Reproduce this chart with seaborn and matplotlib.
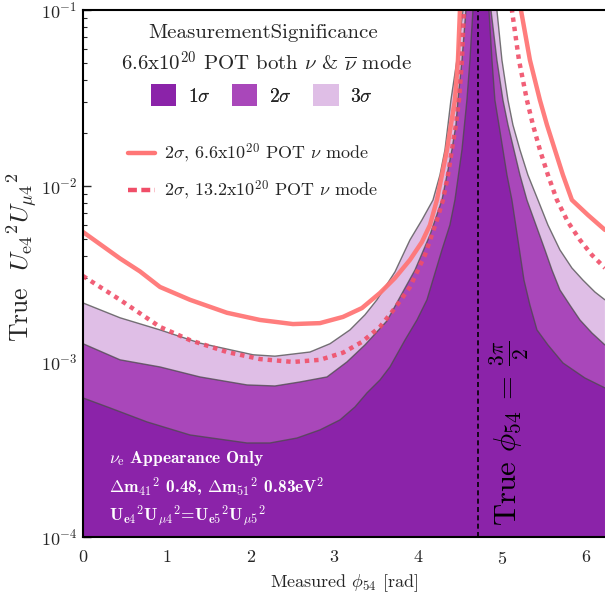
import matplotlib
matplotlib.use("Agg")
import matplotlib.pyplot as plt
import seaborn as sns
import numpy as np
from matplotlib.patches import Patch
from matplotlib.lines import Line2D

# contour boundaries (measured phi54 [rad], true Ue4^2 Umu4^2)
phi_1s = [0, 0.322, 0.764, 1.277, 1.957, 2.232, 2.554, 2.828, 3.067, 3.246, 3.389, 3.544, 3.663, 3.842,
          3.986, 4.105, 4.284, 4.379, 4.439, 4.523, 4.582, 4.618, 4.654,
          4.75,
          4.845, 4.881, 4.916, 4.964, 5.012, 5.060, 5.119, 5.191, 5.263, 5.334, 5.418, 5.549, 5.728, 5.990, 6.229]
u_1s = [6.19e-4, 5.43e-4, 4.52e-4, 3.81e-4, 3.43e-4, 3.43e-4, 3.66e-4, 4.07e-4, 4.64e-4, 5.50e-4, 6.61e-4, 7.83e-4, 9.29e-4, 1.32e-3,
        1.72e-3, 2.24e-3, 4.31e-3, 5.97e-3, 8.29e-3, 1.60e-2, 3.07e-2, 5.19e-2, 1.0e-1,
        1.0,
        1.0e-1, 5.19e-2, 3.07e-2, 2.22e-2, 1.60e-2, 1.15e-2, 8.29e-3, 4.91e-3, 2.90e-3, 2.09e-3, 1.51e-3, 1.24e-3, 9.79e-4, 8.04e-4, 7.06e-4]

phi_2s = [0, 0.442, 0.919, 1.396, 1.957, 2.291, 2.589, 2.912, 3.150, 3.365, 3.628, 3.783, 3.962, 4.141,
          4.284, 4.344, 4.403, 4.451, 4.475, 4.523, 4.570,
          4.72,
          4.869, 4.940, 5.012, 5.072, 5.143, 5.215, 5.298, 5.406, 5.513, 5.597, 5.692, 5.811, 5.931, 6.074, 6.229]
u_2s = [1.26e-3, 1.02e-3, 9.29e-4, 8.15e-4, 7.34e-4, 7.24e-4, 7.63e-4, 8.15e-4, 9.92e-4, 1.24e-3, 1.70e-3, 2.32e-3, 3.31e-3, 5.24e-3,
        8.29e-3, 1.15e-2, 1.60e-2, 2.22e-2, 3.07e-2, 5.19e-2, 1.0e-1,
        1.0,
        1.0e-1, 5.19e-2, 3.07e-2, 2.22e-2, 1.60e-2, 1.15e-2, 8.29e-3, 5.97e-3, 4.31e-3, 3.31e-3, 2.55e-3, 2.09e-3, 1.72e-3, 1.45e-3, 1.24e-3]

phi_3s = [0, 0.442, 0.919, 1.396, 2.029, 2.291, 2.709, 2.948, 3.186, 3.365, 3.508, 3.723, 3.902, 4.045,
          4.177, 4.260, 4.320, 4.356, 4.391, 4.463, 4.535,
          4.73,
          4.940, 5.000, 5.072, 5.131, 5.215, 5.310, 5.430, 5.549, 5.692, 5.835, 5.967, 6.110, 6.229]
u_3s = [2.15e-3, 1.77e-3, 1.51e-3, 1.27e-3, 1.09e-3, 1.07e-3, 1.13e-3, 1.26e-3, 1.51e-3, 1.84e-3, 2.24e-3, 3.23e-3, 4.91e-3, 6.38e-3,
        8.29e-3, 1.15e-2, 1.60e-2, 2.22e-2, 3.07e-2, 5.19e-2, 1.0e-1,
        1.0,
        1.0e-1, 5.19e-2, 3.07e-2, 2.22e-2, 1.60e-2, 1.15e-2, 8.29e-3, 5.97e-3, 4.31e-3, 3.40e-3, 2.90e-3, 2.48e-3, 2.24e-3]

# 2 sigma lines, nu mode only
phi_66 = [0, 0.442, 0.680, 0.919, 1.277, 1.718, 2.112, 2.506, 2.828, 3.103, 3.329, 3.544, 3.723, 3.902,
          4.045, 4.141, 4.224, 4.284, 4.344, 4.391, 4.439, 4.475, 4.499,
          4.87,
          5.227, 5.334, 5.453, 5.537, 5.632, 5.728, 5.835, 6.026, 6.229]
u_66 = [5.45e-3, 3.85e-3, 3.25e-3, 2.65e-3, 2.24e-3, 1.89e-3, 1.72e-3, 1.63e-3, 1.65e-3, 1.79e-3, 2.01e-3, 2.45e-3, 2.98e-3, 3.78e-3,
        4.78e-3, 5.97e-3, 8.29e-3, 1.15e-2, 1.60e-2, 2.22e-2, 3.07e-2, 5.19e-2, 1.0e-1,
        1.0,
        1.0e-1, 5.19e-2, 3.07e-2, 2.22e-2, 1.60e-2, 1.15e-2, 8.29e-3, 6.81e-3, 5.60e-3]

phi_132 = [0, 0.442, 0.919, 1.277, 1.718, 2.112, 2.506, 2.828, 3.103, 3.329, 3.544, 3.723, 3.902, 4.081,
           4.224, 4.296, 4.356, 4.403, 4.451, 4.487, 4.523, 4.547,
           4.83,
           5.119, 5.203, 5.298, 5.370, 5.453, 5.549, 5.656, 5.788, 5.931, 6.074, 6.229]
u_132 = [3.06e-3, 2.24e-3, 1.57e-3, 1.32e-3, 1.13e-3, 1.03e-3, 9.92e-4, 1.02e-3, 1.12e-3, 1.29e-3, 1.57e-3, 2.01e-3, 2.65e-3, 4.03e-3,
         6.38e-3, 8.29e-3, 1.15e-2, 1.60e-2, 2.22e-2, 3.07e-2, 5.19e-2, 1.0e-1,
         1.0,
         1.0e-1, 5.19e-2, 3.07e-2, 2.22e-2, 1.60e-2, 1.15e-2, 8.29e-3, 6.21e-3, 4.91e-3, 4.03e-3, 3.40e-3]

sigma_labels = [r'$1\sigma$', r'$2\sigma$', r'$3\sigma$']
line_labels = [r'$2\sigma$, 6.6x10$^{20}$ POT $\nu$ mode',
               r'$2\sigma$, 13.2x10$^{20}$ POT $\nu$ mode']
x_ticks = [0, 1, 2, 3, 4, 5, 6]

c1, c2, c3 = '#8B23A9', '#A947BA', '#DFBEE6'
red = '#FF7676'
red_dot = '#F04E68'

sns.set_theme(style='ticks')
plt.rcParams['font.family'] = ['cmr10', 'DejaVu Serif']
plt.rcParams['mathtext.fontset'] = 'cm'
plt.rcParams['axes.formatter.use_mathtext'] = True
plt.rcParams['axes.unicode_minus'] = False

fig = plt.figure(figsize=(6.05, 6.04), dpi=100)
ax = fig.add_axes([83 / 605, 1 - 537 / 604, 1 - 83 / 605, (537 - 10) / 604])
ax.set_yscale('log')

for phi, u, c in [(phi_3s, u_3s, c3), (phi_2s, u_2s, c2), (phi_1s, u_1s, c1)]:
    ax.fill_between(phi, 1e-5, u, color=c, lw=0)
    ax.plot(phi, u, color='#4a4a4a', lw=1.0, alpha=0.75)

sns.lineplot(x=phi_66, y=u_66, ax=ax, sort=False, estimator=None, color=red, lw=3.2, alpha=0.95)
sns.lineplot(x=phi_132, y=u_132, ax=ax, sort=False, estimator=None, color=red_dot, lw=3.2,
             alpha=0.9, linestyle=(0, (1, 1.1)))

ax.axvline(3 * np.pi / 2, color='black', lw=1.2, ls=(0, (3, 2)))

ax.set_xlim(0, 6.23)
ax.set_ylim(1e-4, 1e-1)
ax.set_xticks(x_ticks)
ax.set_xticks(np.arange(0, 6.3, 0.2), minor=True)
ax.tick_params(which='both', direction='in', top=False, right=False, labelsize=13)
ax.tick_params(axis='x', which='major', pad=9)
ax.tick_params(axis='y', which='major', pad=4)
ax.tick_params(which='major', length=6, width=1)
ax.tick_params(which='minor', length=3, width=0.8)
ax.spines['right'].set_visible(False)
for s in ['left', 'bottom', 'top']:
    ax.spines[s].set_linewidth(1.5)
    ax.spines[s].set_color('black')

fig.text(344 / 605, 1 - 583 / 604, r'Measured $\phi_{54}$ [rad]', fontsize=13, ha='center', va='center')
fig.text(22 / 605, 1 - 257 / 604, r'True  $U_{\mathrm{e}4}{}^2U_{\mu 4}{}^2$', fontsize=18.5,
         rotation=90, ha='center', va='center')

# significance legend
fig.text(263 / 605, 1 - 33 / 604, 'MeasurementSignificance', ha='center', va='center', fontsize=15)
fig.text(266 / 605, 1 - 62 / 604, r'6.6x10$^{20}$ POT both $\nu$ & $\overline{\nu}$ mode',
         ha='center', va='center', fontsize=15)
patches = [Patch(facecolor=c, edgecolor='none') for c in (c1, c2, c3)]
leg1 = fig.legend(patches, sigma_labels, loc='center', bbox_to_anchor=(262 / 605, 1 - 95 / 604),
                  ncol=3, frameon=False, fontsize=14, handlelength=1.3, handleheight=1.3,
                  columnspacing=1.1, handletextpad=0.6, borderpad=0)

lines = [Line2D([], [], color=red, lw=3.2),
         Line2D([], [], color=red_dot, lw=3.2, ls=(0, (2, 1)))]
fig.legend(lines, line_labels, loc='upper left', bbox_to_anchor=(128 / 605, 1 - 142 / 604),
           frameon=False, fontsize=13, handlelength=1.5, handletextpad=0.5, labelspacing=0.75,
           borderpad=0, borderaxespad=0)
fig.add_artist(leg1)

ax.text(5.09, 1.15e-4, r'True $\phi_{54}$ = $\frac{3\pi}{2}$', rotation=90, ha='center', va='bottom',
        fontsize=22, color='black')

white_lines = [r'$\nu_{\mathrm{e}}$ Appearance Only',
               r'$\mathbf{\Delta}$m$_{\mathbf{41}}{}^{\mathbf{2}}$ 0.48, $\mathbf{\Delta}$m$_{\mathbf{51}}{}^{\mathbf{2}}$ 0.83eV$^{\mathbf{2}}$',
               r'U$_{\mathbf{e4}}{}^{\mathbf{2}}$U$_{\mu\mathbf{4}}{}^{\mathbf{2}}$=U$_{\mathbf{e5}}{}^{\mathbf{2}}$U$_{\mu\mathbf{5}}{}^{\mathbf{2}}$']
for i, t in enumerate(white_lines):
    fig.text(109 / 605, 1 - (458 + i * 29) / 604, t, color='white', fontsize=12.5, va='center', ha='left',
             family=['cmb10', 'DejaVu Serif'])

fig.savefig('out.png', dpi=100)
